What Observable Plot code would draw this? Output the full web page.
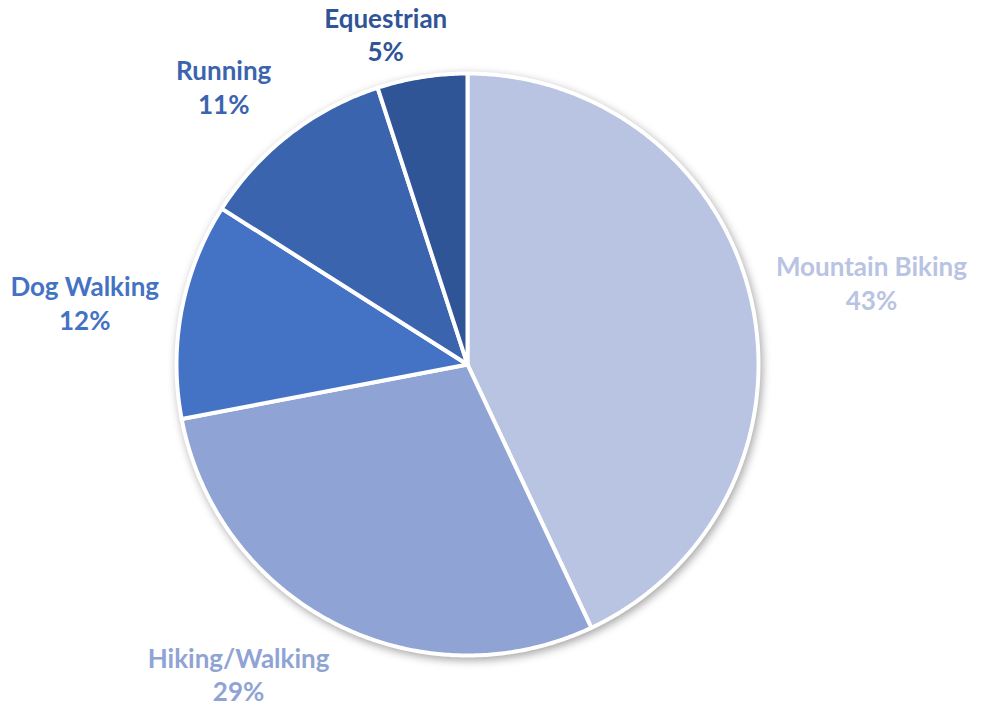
<!DOCTYPE html>
<html>
<head>
<meta charset="utf-8">
<script src="https://cdn.jsdelivr.net/npm/d3@7"></script>
<script src="https://cdn.jsdelivr.net/npm/@observablehq/plot@0.6"></script>
<style>
  html, body { margin: 0; padding: 0; background: #ffffff; }
  #chart svg g[aria-label="line"] { filter: drop-shadow(2px 3px 4px rgba(0,0,0,0.35)); }
</style>
</head>
<body>
<div id="chart"></div>
<script>
// ---- data ----
const categories = ["Mountain Biking", "Hiking/Walking", "Dog Walking", "Running", "Equestrian"];
const shares = [43, 29, 12, 11, 5];
const sliceColors = ["#b9c3e2", "#8fa4d4", "#4472c4", "#3b64ae", "#2f5597"];

// ---- layout (pixels) ----
const W = 985, H = 711;
const R = 291;            // pie radius in px
const cx = 467, cy = 364; // pie centre in px
const fontSize = 26;
const lineHeight = 1.3;
const font = "Lato, 'Open Sans', sans-serif";
// small layout nudges for label boxes (px), mimicking the spreadsheet's placement
const labelNudge = {
  "Mountain Biking": [4, -6],
  "Hiking/Walking": [-45, -1],
  "Dog Walking": [-1, 3],
  "Running": [-22, -3],
  "Equestrian": [-23, 13]
};

const data = categories.map((c, i) => ({cat: c, value: shares[i]}));
const arcs = d3.pie().sort(null).value(d => d.value)(data);

// polygon points for each slice, unit coordinates (y up)
const pts = [];
for (const a of arcs) {
  const n = Math.max(2, Math.ceil((a.endAngle - a.startAngle) / (Math.PI / 360)));
  pts.push({cat: a.data.cat, x: 0, y: 0});
  for (let k = 0; k <= n; k++) {
    const t = a.startAngle + (a.endAngle - a.startAngle) * k / n;
    pts.push({cat: a.data.cat, x: Math.sin(t), y: Math.cos(t)});
  }
  pts.push({cat: a.data.cat, x: 0, y: 0});
}

// label positions
const ctx = document.createElement("canvas").getContext("2d");
ctx.font = `bold ${fontSize}px ${font}`;
const lineH = fontSize * lineHeight;
const labels = arcs.map(a => {
  const m = (a.startAngle + a.endAngle) / 2;
  const s = Math.sin(m), c = Math.cos(m);
  const text = `${a.data.cat}\n${a.data.value}%`;
  const w = Math.max(ctx.measureText(a.data.cat).width, ctx.measureText(a.data.value + "%").width);
  const h = lineH * 2;
  const r0 = 1.08;
  const nd = labelNudge[a.data.cat] || [0, 0];
  const px = s * w / 2 + nd[0];
  const py = c * h / 2 - nd[1];
  return {cat: a.data.cat, text, x: s * r0 + px / R, y: c * r0 + py / R};
});

const chart = Plot.plot({
  width: W,
  height: H,
  marginLeft: cx - R,
  marginRight: W - (cx + R),
  marginTop: cy - R,
  marginBottom: H - (cy + R),
  x: {domain: [-1, 1], axis: null},
  y: {domain: [-1, 1], axis: null},
  color: {domain: categories, range: sliceColors},
  style: {fontFamily: font, background: "#ffffff", overflow: "visible"},
  marks: [
    Plot.line(pts, {
      x: "x", y: "y", z: "cat", fill: "cat",
      stroke: "white", strokeWidth: 4, strokeLinejoin: "round"
    }),
    Plot.text(labels, {
      x: "x", y: "y", text: "text", fill: "cat",
      fontSize: fontSize, fontWeight: "bold", lineHeight: lineHeight,
      textAnchor: "middle", lineAnchor: "middle"
    })
  ]
});
document.getElementById("chart").appendChild(chart);
</script>
</body>
</html>
